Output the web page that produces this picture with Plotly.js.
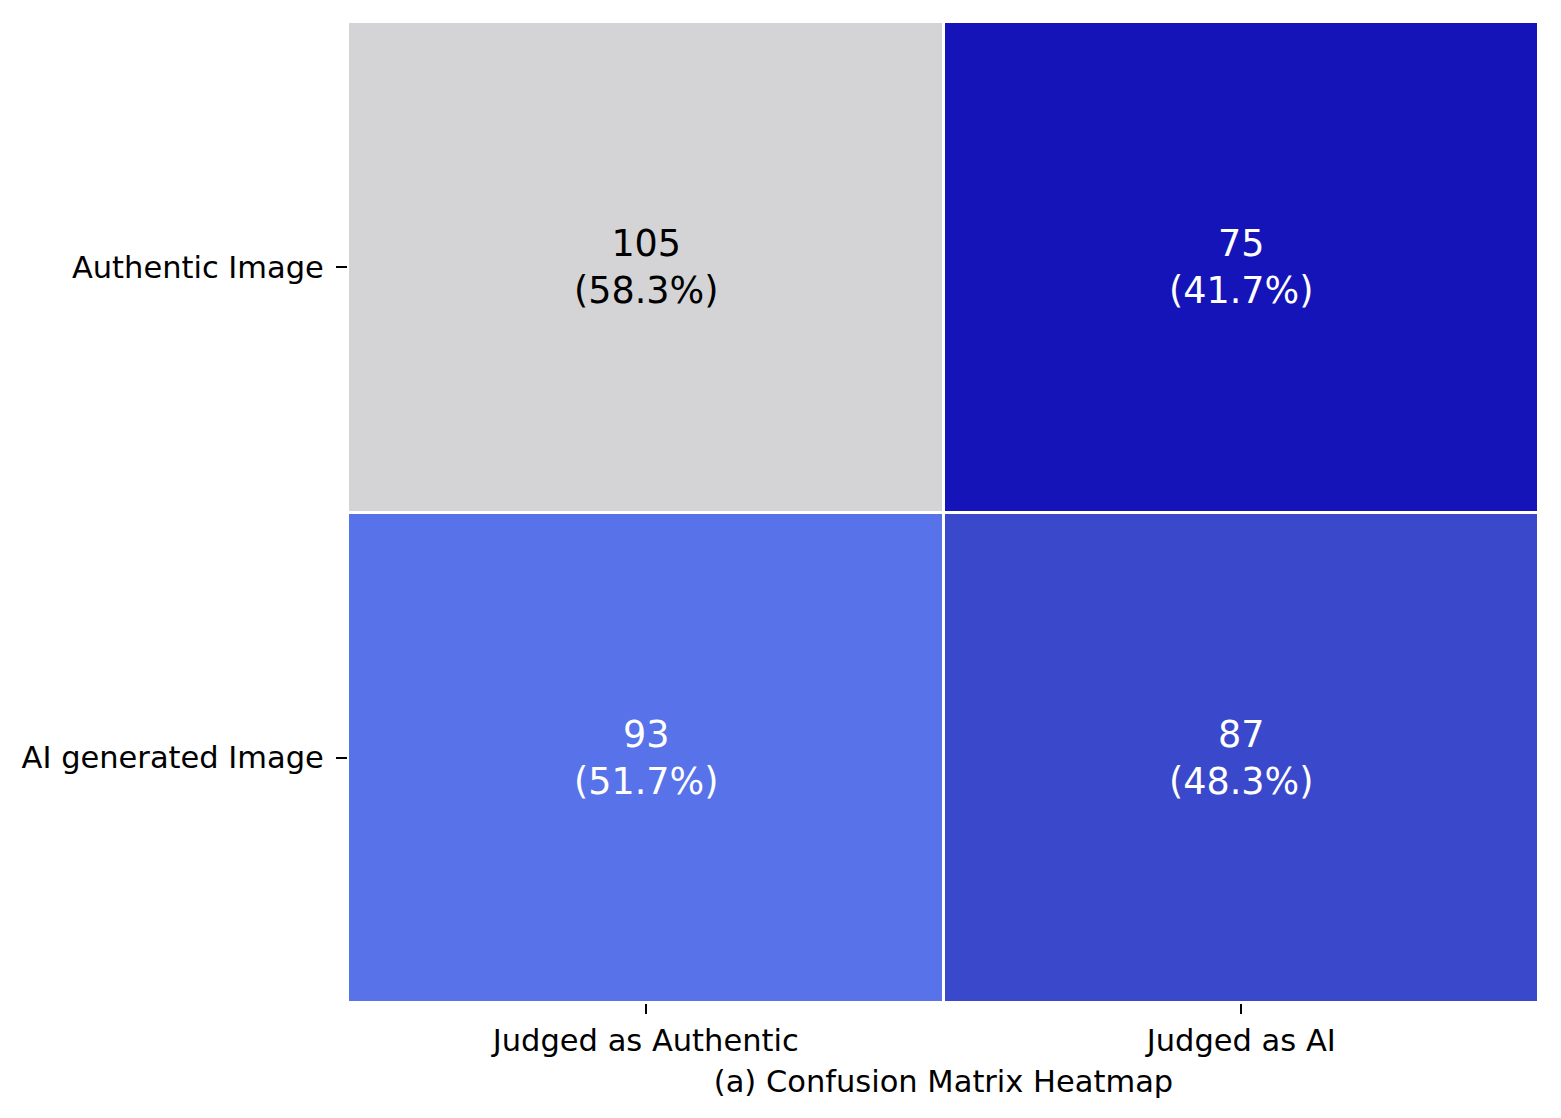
<!DOCTYPE html>
<html>
<head>
<meta charset="utf-8">
<script src="https://cdn.plot.ly/plotly-3.0.1.min.js"></script>
<style>
html,body{margin:0;padding:0;background:#fff;}
#chart{width:1561px;height:1118px;}
</style>
</head>
<body>
<div id="chart"></div>
<script>
const predictedLabels = ["Judged as Authentic", "Judged as AI"];
const actualLabels = ["Authentic Image", "AI generated Image"];
const counts = [
  [105, 75],
  [93, 87]
];
const percents = [
  ["58.3%", "41.7%"],
  ["51.7%", "48.3%"]
];
const xTitle = "(a) Confusion Matrix Heatmap";

const colorscale = [
  [0, "#1414b8"],
  [0.4, "#3a49cb"],
  [0.6, "#5872ea"],
  [1, "#d4d4d6"]
];

const annotations = [];
for (let r = 0; r < actualLabels.length; r++) {
  for (let c = 0; c < predictedLabels.length; c++) {
    annotations.push({
      x: predictedLabels[c], y: actualLabels[r], xref: "x", yref: "y",
      text: counts[r][c] + "<br>(" + percents[r][c] + ")",
      showarrow: false,
      font: {family: "DejaVu Sans", size: 36.5, color: (counts[r][c] >= 100 ? "#000000" : "#ffffff")}
    });
  }
}

const data = [{
  type: "heatmap",
  x: predictedLabels,
  y: actualLabels,
  z: counts,
  zmin: 75, zmax: 105,
  colorscale: colorscale,
  showscale: false,
  xgap: 3, ygap: 3,
  hoverinfo: "none"
}];

const layout = {
  width: 1561, height: 1118,
  margin: {l: 348, r: 22, t: 22, b: 115},
  paper_bgcolor: "#ffffff",
  plot_bgcolor: "#ffffff",
  font: {family: "DejaVu Sans", color: "#000000", size: 30.5},
  xaxis: {
    type: "category",
    ticks: "outside", ticklen: 10, tickwidth: 2, tickcolor: "#000",
    showgrid: false, zeroline: false, showline: false,
    tickfont: {family: "DejaVu Sans", size: 30.5},
    title: {text: xTitle, font: {family: "DejaVu Sans", size: 30.5}, standoff: 14}
  },
  yaxis: {
    type: "category",
    autorange: "reversed",
    ticks: "outside", ticklen: 11, tickwidth: 2, tickcolor: "#000",
    ticklabelstandoff: 6,
    showgrid: false, zeroline: false, showline: false,
    tickfont: {family: "DejaVu Sans", size: 30.5}
  },
  annotations: annotations
};

Plotly.newPlot("chart", data, layout, {displayModeBar: false, staticPlot: true});
</script>
</body>
</html>
